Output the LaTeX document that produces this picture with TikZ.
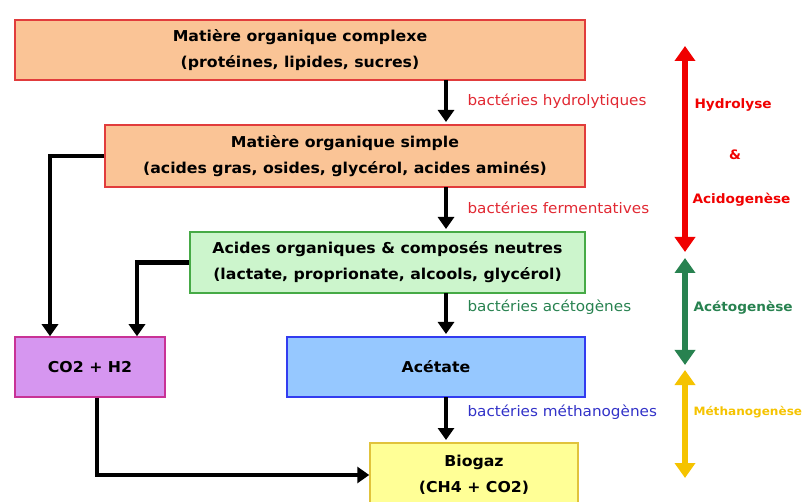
\documentclass[tikz,border=0pt]{standalone}
\usepackage{fontspec}
\setmainfont[FakeStretch=1.05]{DejaVu Sans}
\usepackage{tikz}
\usetikzlibrary{arrows.meta,positioning}

\definecolor{boxorange}{RGB}{250,196,150}
\definecolor{boxred}{RGB}{225,60,60}
\definecolor{boxgreen}{RGB}{204,245,204}
\definecolor{edgegreen}{RGB}{70,170,70}
\definecolor{boxviolet}{RGB}{214,150,240}
\definecolor{edgeviolet}{RGB}{200,50,150}
\definecolor{boxblue}{RGB}{150,200,255}
\definecolor{edgeblue}{RGB}{50,60,240}
\definecolor{boxyellow}{RGB}{255,255,150}
\definecolor{edgeyellow}{RGB}{225,195,60}
\definecolor{txtred}{RGB}{225,40,50}
\definecolor{txtgreen}{RGB}{40,130,80}
\definecolor{txtblue}{RGB}{50,50,200}
\definecolor{phasered}{RGB}{240,0,0}
\definecolor{phasegreen}{RGB}{40,130,80}
\definecolor{phaseyellow}{RGB}{245,195,0}

\begin{document}
\begin{tikzpicture}[x=1pt,y=-1pt,
	stage/.style={line width=1.5pt, align=center, inner sep=0pt,
		font=\fontsize{15}{26}\selectfont\bfseries},
	flow/.style={line width=4.5pt, -{Triangle[length=12pt,width=16pt]}},
	bact/.style={anchor=west, font=\fontsize{14.5}{16}\selectfont},
	phase/.style={line width=6pt, {Triangle[length=15pt,width=20pt]}-{Triangle[length=15pt,width=20pt]}},
	phasename/.style={anchor=west, font=\fontsize{13}{15}\selectfont\bfseries}]
	\useasboundingbox (0,0) rectangle (811,502);

	% etapes
	\node[stage, fill=boxorange, draw=boxred, minimum width=570pt, minimum height=60pt] (complexe) at (300,50)
		{Matière organique complexe\\(protéines, lipides, sucres)};
	\node[stage, fill=boxorange, draw=boxred, minimum width=480pt, minimum height=62pt] (simple) at (345,156)
		{Matière organique simple\\(acides gras, osides, glycérol, acides aminés)};
	\node[stage, fill=boxgreen, draw=edgegreen, minimum width=395pt, minimum height=61pt] (acides) at (387.5,262.5)
		{Acides organiques \& composés neutres\\(lactate, proprionate, alcools, glycérol)};
	\node[stage, fill=boxviolet, draw=edgeviolet, minimum width=150pt, minimum height=60pt] (co2) at (90,367)
		{CO2 + H2};
	\node[stage, fill=boxblue, draw=edgeblue, minimum width=298pt, minimum height=60pt] (acetate) at (436,367)
		{Acétate};
	\node[stage, fill=boxyellow, draw=edgeyellow, minimum width=208pt, minimum height=64pt] (biogaz) at (474,475)
		{Biogaz\\(CH4 + CO2)};

	% fleches
	\draw[flow] (446,80) -- (446,122);
	\draw[flow] (446,187) -- (446,229);
	\draw[flow] (446,293) -- (446,334);
	\draw[flow] (446,397) -- (446,440);
	\draw[flow] (simple.west) -| (co2.north -| 50,0);
	\draw[flow] (acides.west) -| (co2.north -| 137,0);
	\draw[flow] (co2.south -| 97,0) |- (biogaz.west);

	% bacteries
	\node[bact, text=txtred] (hydro) at (464,101) {bactéries hydrolytiques};
	\node[bact, text=txtred] (ferm) at (464,208) {bactéries fermentatives};
	\node[bact, text=txtgreen] (aceto) at (464,307) {bactéries acétogènes};
	\node[bact, text=txtblue] (metha) at (464,412) {bactéries méthanogènes};

	% phases
	\draw[phase, phasered] (685,46) -- (685,252);
	\draw[phase, phasegreen] (685,258) -- (685,365);
	\draw[phase, phaseyellow] (685,370) -- (685,478);
	\node[phasename, text=phasered] (hydrolyse) at (691,105) {Hydrolyse};
	\node[phasename, text=phasered, anchor=center] (et) at (735,155) {\&};
	\node[phasename, text=phasered] (acido) at (689,200) {Acidogenèse};
	\node[phasename, text=phasegreen] (acetog) at (690,308) {Acétogenèse};
	\node[phasename, text=phaseyellow, font=\fontsize{11.5}{14}\selectfont\bfseries] (methanog) at (690,412) {Méthanogenèse};
\end{tikzpicture}
\end{document}
